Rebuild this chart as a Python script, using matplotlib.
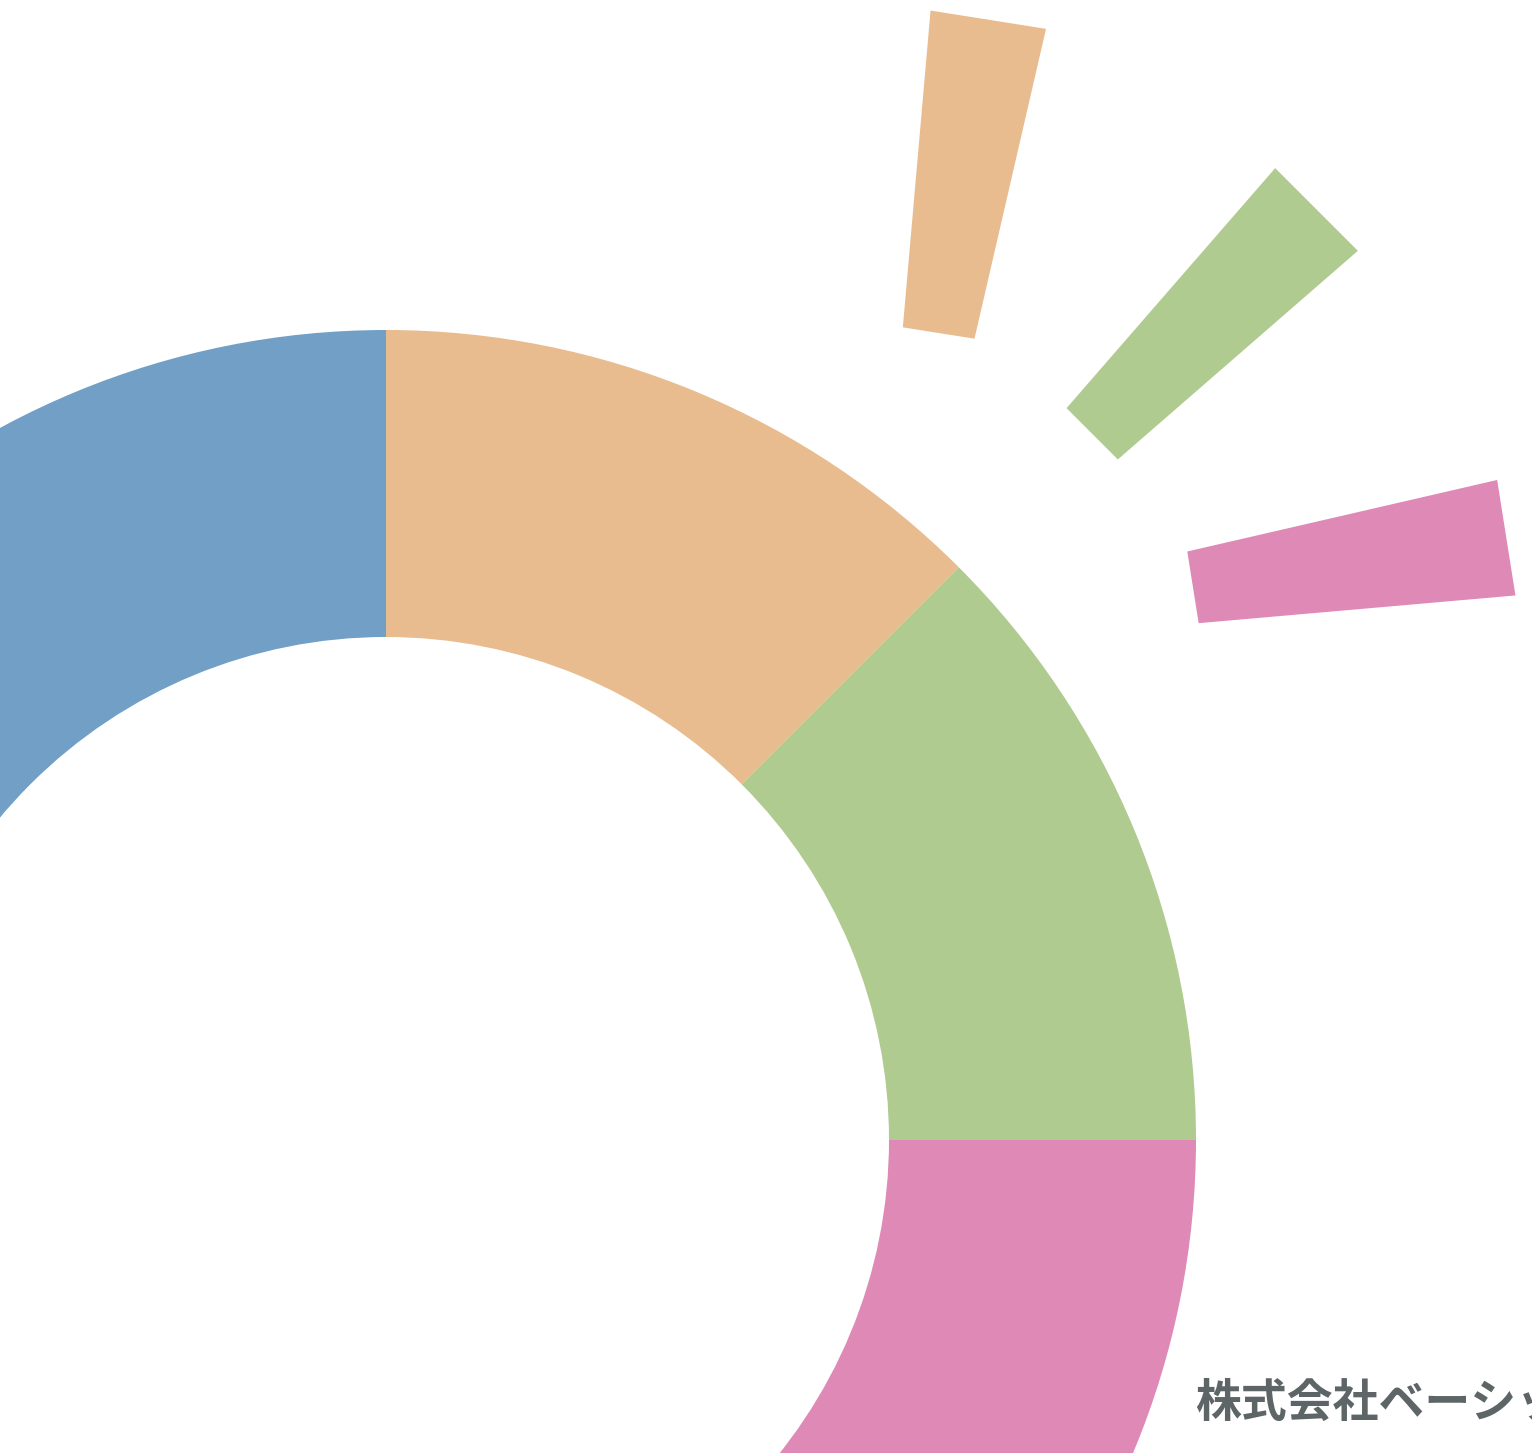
import numpy as np
import matplotlib
matplotlib.use("Agg")
import matplotlib.pyplot as plt

# main donut, clockwise from 12 o'clock
SEGMENT_NAMES = ["orange", "green", "pink", "blue"]
SEGMENT_SHARES = [12.5, 12.5, 25.0, 50.0]
SEGMENT_COLORS = ["#E8BC8E", "#AFCB8F", "#DE89B6", "#729FC6"]

# small accent pieces floating outside the ring
ACCENT_ANGLES = [81, 45, 9]          # centre angle of each piece (deg)
ACCENT_SPAN = 8                      # angular width (deg)
ACCENT_COLORS = ["#E8BC8E", "#AFCB8F", "#DE89B6"]

COMPANY = "株式会社ベーシック"

# layout (pixel-like data units, centre of donut at origin)
R_OUT, R_IN = 810, 503
ACC_R_OUT, ACC_R_IN = 838, 520
ACC_SHIFT_DIST = [556, 480, 556]
ACC_SHIFT_ANGLE = [32, 45, 58]

fig = plt.figure(figsize=(15.32, 14.53), dpi=100)
ax = fig.add_axes([0, 0, 1, 1])

ax.pie(SEGMENT_SHARES, colors=SEGMENT_COLORS, startangle=90, counterclock=False,
       radius=R_OUT, wedgeprops=dict(width=R_OUT - R_IN, linewidth=0))

# accents are flat-edged (trapezoid) slices
for ang, col, d, sa in zip(ACCENT_ANGLES, ACCENT_COLORS, ACC_SHIFT_DIST, ACC_SHIFT_ANGLE):
    cx = d * np.cos(np.radians(sa))
    cy = d * np.sin(np.radians(sa))
    a = np.radians([ang - ACCENT_SPAN / 2, ang + ACCENT_SPAN / 2])
    rr = [ACC_R_IN, ACC_R_IN, ACC_R_OUT, ACC_R_OUT]
    tt = [a[0], a[1], a[1], a[0]]
    xs = [cx + r * np.cos(t) for r, t in zip(rr, tt)]
    ys = [cy + r * np.sin(t) for r, t in zip(rr, tt)]
    ax.fill(xs, ys, color=col, linewidth=0)

ax.text(809, -277, COMPANY, fontsize=33, fontweight="bold", color="#5E6566",
        family=["Noto Sans CJK JP", "DejaVu Sans"], ha="left", va="baseline")

ax.set_xlim(-386, 1146)
ax.set_ylim(-313, 1140)
ax.set_aspect("auto")
ax.axis("off")

fig.savefig("out.png", dpi=100)
